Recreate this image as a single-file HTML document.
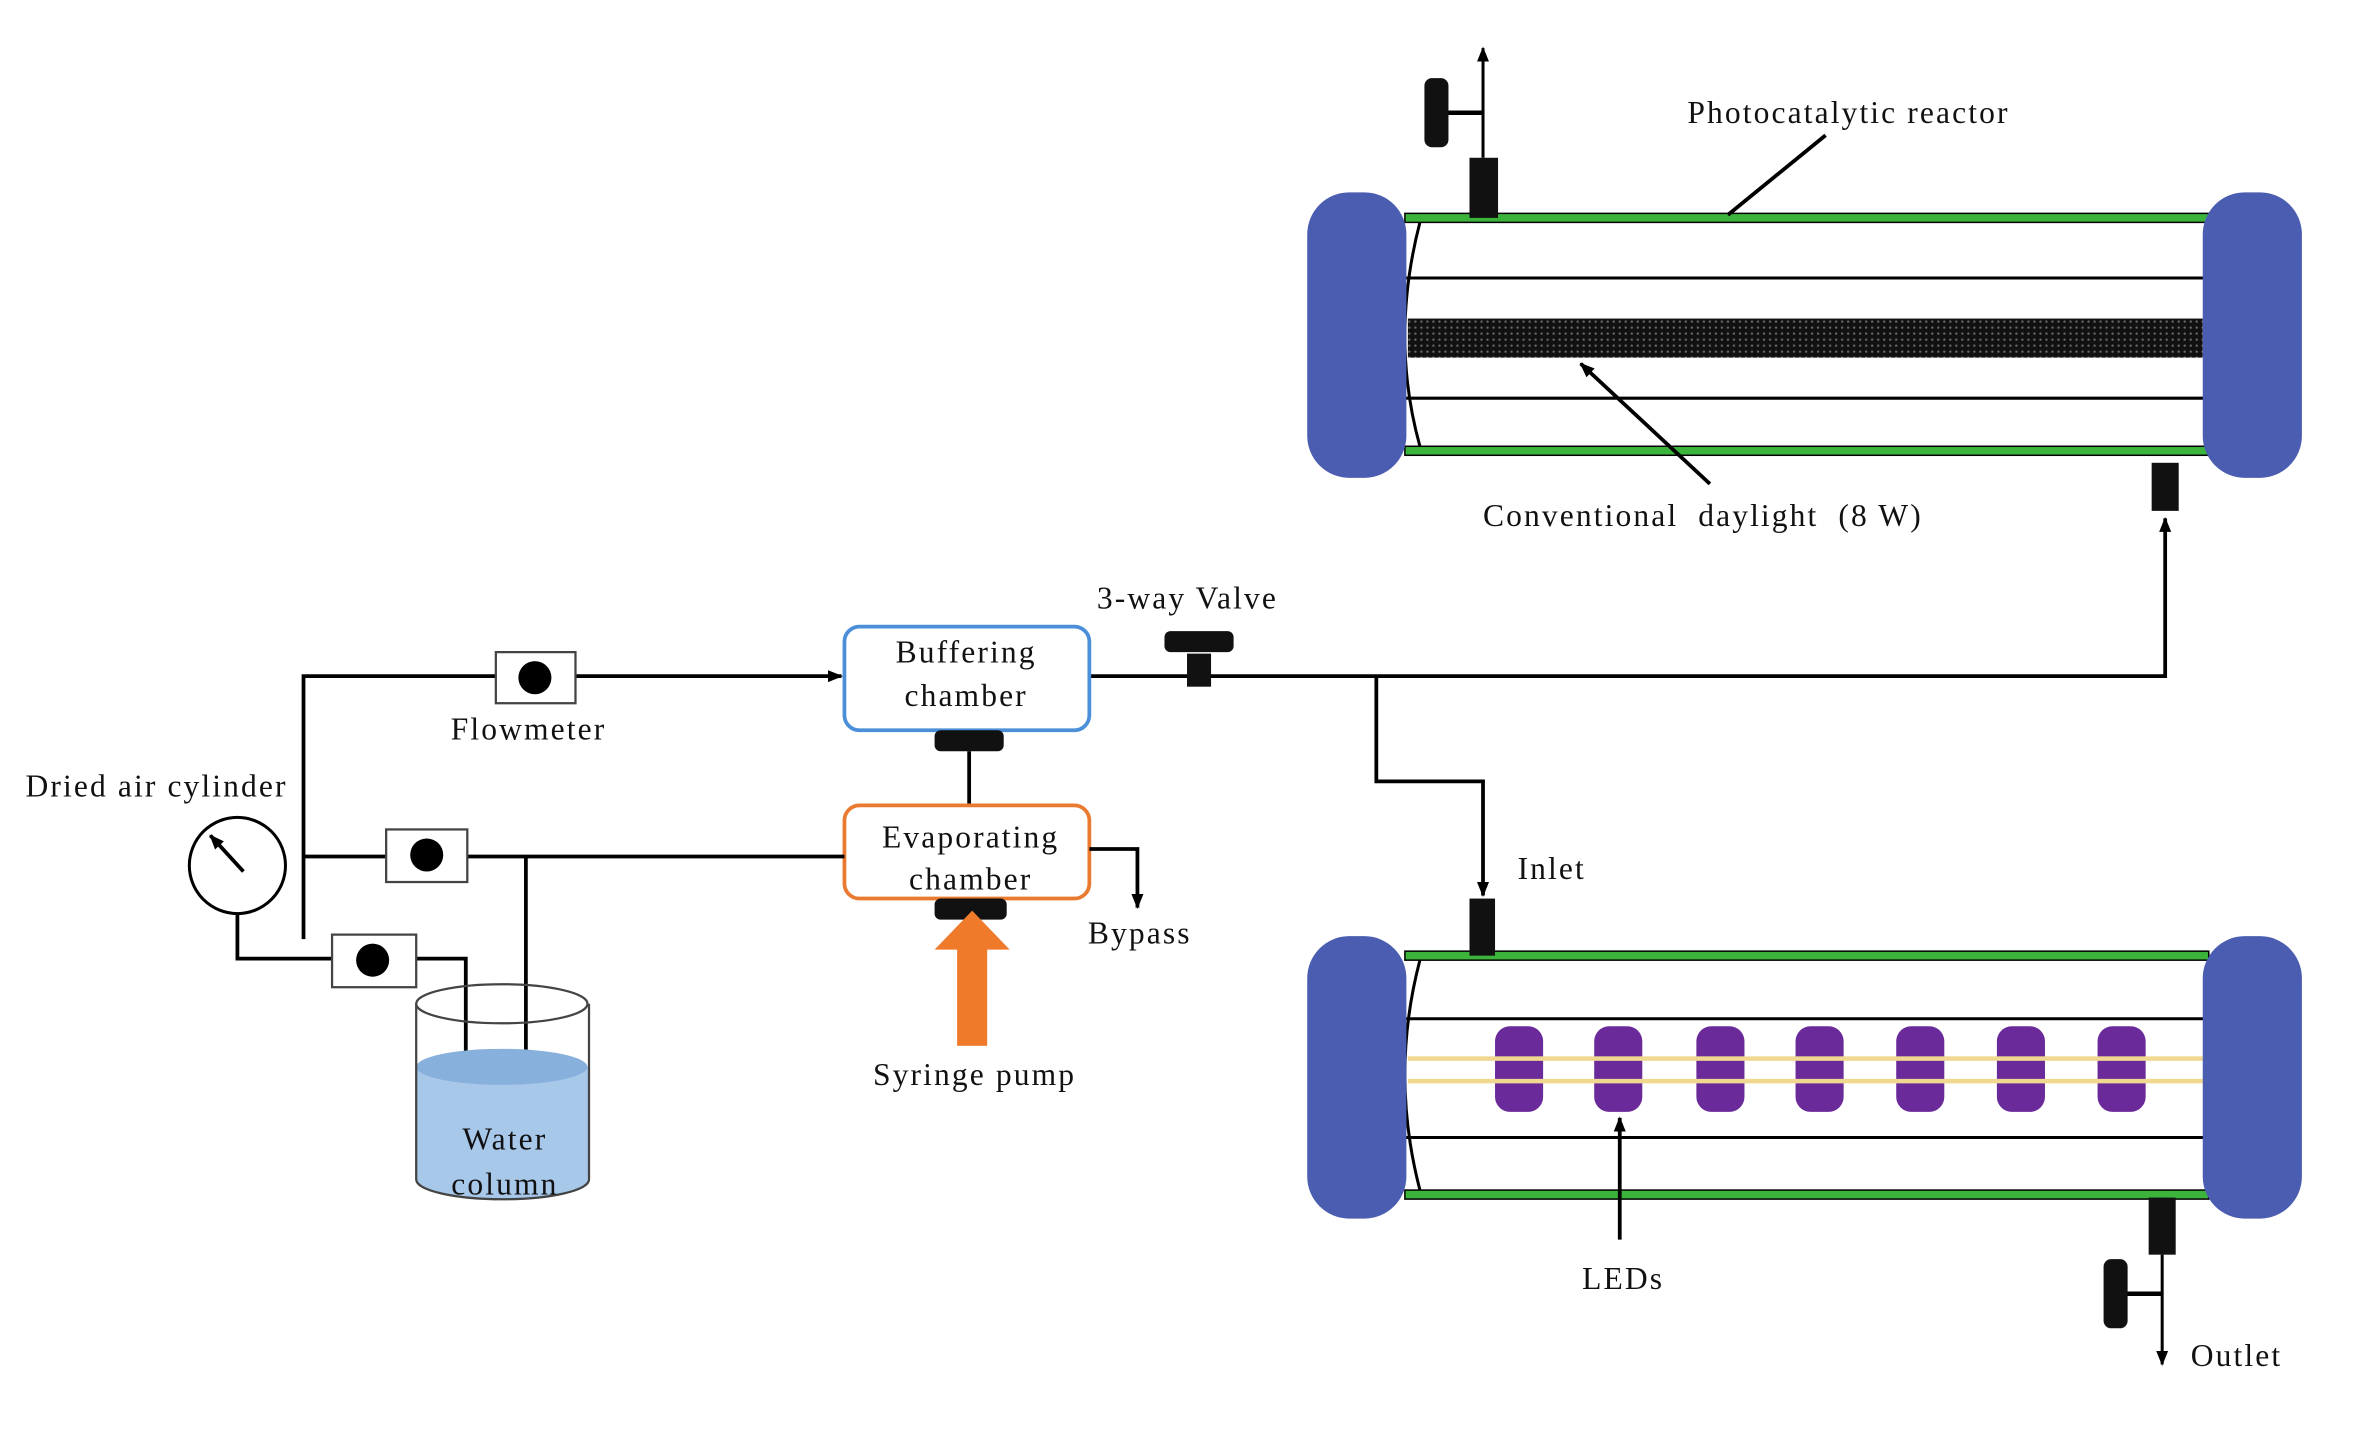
<!DOCTYPE html>
<html><head><meta charset="utf-8"><style>
html,body{margin:0;padding:0;background:#fff;}
svg{display:block;}
text{font-family:"Liberation Serif",serif;font-size:21px;fill:#111;letter-spacing:1.4px;white-space:pre;}
</style></head><body>
<svg width="2356" height="1444" viewBox="0 0 1568 961" preserveAspectRatio="none">
<defs>
<marker id="ah" markerWidth="10" markerHeight="10" refX="9" refY="5" orient="auto" markerUnits="userSpaceOnUse"><path d="M0,1 L10,5 L0,9 z" fill="#000"/></marker>
<pattern id="dots" width="4" height="4" patternUnits="userSpaceOnUse"><rect width="4" height="4" fill="#111"/><circle cx="2" cy="2" r="0.8" fill="#666"/></pattern>
</defs>
<rect width="1568" height="961" fill="#fff"/>

<!-- TOP REACTOR -->
<rect x="935" y="142" width="535" height="6" fill="#3cb43c" stroke="#000" stroke-width="1"/>
<rect x="935" y="297" width="535" height="6" fill="#3cb43c" stroke="#000" stroke-width="1"/>
<line x1="935" y1="185" x2="1470" y2="185" stroke="#000" stroke-width="2"/>
<line x1="935" y1="265" x2="1470" y2="265" stroke="#000" stroke-width="2"/>
<rect x="937" y="212" width="529" height="26" fill="url(#dots)"/>
<path d="M945,148 Q925,225 945,297" fill="none" stroke="#000" stroke-width="2"/>
<rect x="870" y="128" width="66" height="190" rx="28" fill="#4a5db0"/>
<rect x="1466" y="128" width="66" height="190" rx="28" fill="#4a5db0"/>
<rect x="978" y="105" width="19" height="40" fill="#111"/>
<line x1="987" y1="105" x2="987" y2="32" stroke="#000" stroke-width="2" marker-end="url(#ah)"/>
<line x1="962" y1="75" x2="987" y2="75" stroke="#000" stroke-width="3"/>
<rect x="948" y="52" width="16" height="46" rx="5" fill="#111"/>
<text x="1123" y="82">Photocatalytic reactor</text>
<line x1="1215" y1="90" x2="1150" y2="143" stroke="#000" stroke-width="2.5"/>
<line x1="1138" y1="322" x2="1052" y2="242" stroke="#000" stroke-width="2.5" marker-end="url(#ah)"/>
<text x="987" y="350">Conventional  daylight  (8 W)</text>
<rect x="1432" y="308" width="18" height="32" fill="#111"/>

<polyline points="725,450 1441,450 1441,345" fill="none" stroke="#000" stroke-width="2.5" marker-end="url(#ah)"/>
<polyline points="916,450 916,520 987,520 987,596" fill="none" stroke="#000" stroke-width="2.5" marker-end="url(#ah)"/>
<text x="1010" y="585">Inlet</text>

<!-- BOTTOM REACTOR -->
<rect x="935" y="633" width="535" height="6" fill="#3cb43c" stroke="#000" stroke-width="1"/>
<rect x="935" y="792" width="535" height="6" fill="#3cb43c" stroke="#000" stroke-width="1"/>
<line x1="935" y1="678" x2="1470" y2="678" stroke="#000" stroke-width="2"/>
<line x1="935" y1="757" x2="1470" y2="757" stroke="#000" stroke-width="2"/>
<g fill="#6a2a9a">
<rect x="995" y="683" width="32" height="57" rx="10"/>
<rect x="1061" y="683" width="32" height="57" rx="10"/>
<rect x="1129" y="683" width="32" height="57" rx="10"/>
<rect x="1195" y="683" width="32" height="57" rx="10"/>
<rect x="1262" y="683" width="32" height="57" rx="10"/>
<rect x="1329" y="683" width="32" height="57" rx="10"/>
<rect x="1396" y="683" width="32" height="57" rx="10"/>
</g>
<rect x="937" y="703" width="529" height="3" fill="#f0d890"/>
<rect x="937" y="718" width="529" height="3" fill="#f0d890"/>
<path d="M945,639 Q925,715 945,792" fill="none" stroke="#000" stroke-width="2"/>
<rect x="870" y="623" width="66" height="188" rx="28" fill="#4a5db0"/>
<rect x="1466" y="623" width="66" height="188" rx="28" fill="#4a5db0"/>
<rect x="978" y="598" width="17" height="38" fill="#111"/>
<line x1="1078" y1="825" x2="1078" y2="744" stroke="#000" stroke-width="2.5" marker-end="url(#ah)"/>
<text x="1053" y="858">LEDs</text>
<rect x="1430" y="797" width="18" height="38" fill="#111"/>
<line x1="1439" y1="835" x2="1439" y2="908" stroke="#000" stroke-width="2" marker-end="url(#ah)"/>
<line x1="1415" y1="861" x2="1439" y2="861" stroke="#000" stroke-width="3"/>
<rect x="1400" y="838" width="16" height="46" rx="5" fill="#111"/>
<text x="1458" y="909">Outlet</text>

<!-- chambers -->
<rect x="562" y="417" width="163" height="69" rx="10" fill="#fff" stroke="#4a8fd8" stroke-width="2.5"/>
<text x="643" y="441" text-anchor="middle">Buffering</text>
<text x="643" y="470" text-anchor="middle">chamber</text>
<rect x="790" y="435" width="16" height="22" fill="#111"/>
<rect x="775" y="420" width="46" height="14" rx="4" fill="#111"/>
<text x="730" y="405">3-way Valve</text>
<rect x="622" y="486" width="46" height="14" rx="4" fill="#111"/>
<line x1="645" y1="500" x2="645" y2="536" stroke="#000" stroke-width="2.5"/>
<rect x="562" y="536" width="163" height="62" rx="10" fill="#fff" stroke="#ea7a30" stroke-width="2.5"/>
<text x="646" y="564" text-anchor="middle">Evaporating</text>
<text x="646" y="592" text-anchor="middle">chamber</text>
<polyline points="725,565 757,565 757,604" fill="none" stroke="#000" stroke-width="2.5" marker-end="url(#ah)"/>
<text x="724" y="628">Bypass</text>
<rect x="622" y="598" width="48" height="14" rx="4" fill="#111"/>
<rect x="637" y="630" width="20" height="66" fill="#ee7a2a"/>
<polygon points="622,632 647,606 672,632" fill="#ee7a2a"/>
<text x="581" y="722">Syringe pump</text>

<!-- left side -->
<polyline points="202,625 202,450 560,450" fill="none" stroke="#000" stroke-width="2.5" marker-end="url(#ah)"/>
<rect x="330" y="434" width="53" height="34" fill="#fff" stroke="#444" stroke-width="1.5"/>
<circle cx="356" cy="451" r="11" fill="#000"/>
<text x="300" y="492">Flowmeter</text>
<line x1="202" y1="570" x2="562" y2="570" stroke="#000" stroke-width="2.5"/>
<line x1="350" y1="570" x2="350" y2="700" stroke="#000" stroke-width="2.5"/>
<rect x="257" y="552" width="54" height="35" fill="#fff" stroke="#444" stroke-width="1.5"/>
<circle cx="284" cy="569" r="11" fill="#000"/>
<polyline points="158,608 158,638 310,638 310,735" fill="none" stroke="#000" stroke-width="2.5"/>
<rect x="221" y="622" width="56" height="35" fill="#fff" stroke="#444" stroke-width="1.5"/>
<circle cx="248" cy="639" r="11" fill="#000"/>
<circle cx="158" cy="576" r="32" fill="#fff" stroke="#000" stroke-width="2"/>
<line x1="162" y1="580" x2="140" y2="556" stroke="#000" stroke-width="2.5" marker-end="url(#ah)"/>
<text x="17" y="530">Dried air cylinder</text>

<!-- water column -->
<path d="M277,710 L277,785 A57,13 0 0 0 392,785 L392,710 Z" fill="#a8c8ea"/>
<ellipse cx="334" cy="710" rx="57" ry="12" fill="#88b0dd"/>
<ellipse cx="334" cy="668" rx="57" ry="13" fill="none" stroke="#444" stroke-width="1.5"/>
<line x1="277" y1="668" x2="277" y2="785" stroke="#444" stroke-width="1.5"/>
<line x1="392" y1="668" x2="392" y2="785" stroke="#444" stroke-width="1.5"/>
<path d="M277,785 A57,13 0 0 0 392,785" fill="none" stroke="#444" stroke-width="1.5"/>
<text x="336" y="765" text-anchor="middle">Water</text>
<text x="336" y="795" text-anchor="middle">column</text>
</svg>
</body></html>
